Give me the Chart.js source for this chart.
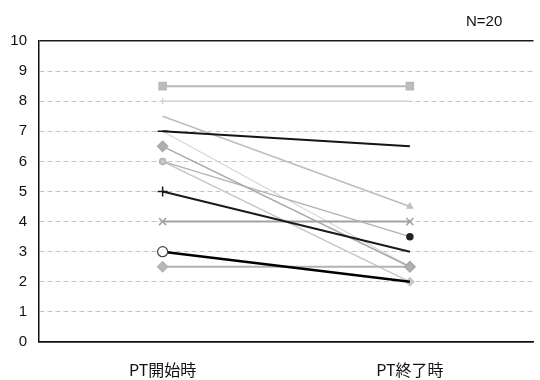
<!DOCTYPE html>
<html>
<head>
<meta charset="utf-8">
<script src="https://cdn.jsdelivr.net/npm/chart.js@4/dist/chart.umd.min.js"></script>
<style>
  html, body { margin: 0; padding: 0; background: #fff; }
  #wrap { width: 540px; height: 380px; position: relative; }
</style>
</head>
<body>
<div id="wrap"><canvas id="c"></canvas></div>
<script>
// Categories on the x axis
const categories = ['PT開始時', 'PT終了時'];
// Score of each patient line at the start and at the end of PT
const startScores = [8.5, 8, 7.5, 7, 7, 6.5, 6, 6, 5, 4, 3, 2.5];
const endScores   = [8.5, 8, 4.5, 6.5, 2.5, 2.5, 3.5, 2, 3, 4, 2, 2.5];
// Y axis ticks
const yTicks = [0, 1, 2, 3, 4, 5, 6, 7, 8, 9, 10];
const sampleLabel = 'N=20';

// Drawing styles for each line (same order as the scores):
// marker radius and fill given separately for the start and end points
const lineStyles = [
  { color: '#b9b9b9', width: 2,   point: 'rect',     radius: [5, 5], fill: ['#bdbdbd', '#bdbdbd'], order: 2 },
  { color: '#d2d2d2', width: 1.5, point: 'cross',    radius: [3, 0], fill: ['#d2d2d2', '#d2d2d2'], order: 2 },
  { color: '#bdbdbd', width: 1.5, point: 'triangle', radius: [0, 3], fill: ['#cfcfcf', '#cfcfcf'], order: 2 },
  { color: '#151515', width: 2,   point: 'line',     radius: [5, 0], fill: ['#151515', '#151515'], order: 0 },
  { color: '#d6d6d6', width: 1.2, point: 'circle',   radius: [0, 0], fill: ['#d6d6d6', '#d6d6d6'], order: 3 },
  { color: '#a9a9a9', width: 1.5, point: 'rectRot',  radius: [5, 5], fill: ['#b0b0b0', '#b0b0b0'], order: 1 },
  { color: '#b2b2b2', width: 1.5, point: 'circle',   radius: [3, 3], fill: ['#c8c8c8', '#222222'], order: 1 },
  { color: '#c6c6c6', width: 1.5, point: 'rectRot',  radius: [0, 4], fill: ['#c6c6c6', '#c6c6c6'], order: 2 },
  { color: '#1a1a1a', width: 2,   point: 'cross',    radius: [5, 0], fill: ['#1a1a1a', '#1a1a1a'], order: 0 },
  { color: '#a2a2a2', width: 2,   point: 'crossRot', radius: [5, 5], fill: ['#a2a2a2', '#a2a2a2'], order: 1 },
  { color: '#000000', width: 2.5, point: 'circle',   radius: [5, 0], fill: ['#ffffff', '#ffffff'], order: 0 },
  { color: '#b3b3b3', width: 2,   point: 'rectRot',  radius: [5, 5], fill: ['#b8b8b8', '#b8b8b8'], order: 1 }
];

const datasets = startScores.map((s, i) => {
  const st = lineStyles[i];
  const hollow = st.fill[0] === '#ffffff';
  return {
    label: 'p' + (i + 1),
    data: [s, endScores[i]],
    borderColor: st.color,
    borderWidth: st.width,
    pointStyle: st.point,
    pointRadius: st.radius,
    pointHoverRadius: st.radius,
    pointBackgroundColor: st.fill,
    pointBorderColor: hollow ? '#444' : st.fill.map((f) => f === '#222222' ? '#222222' : st.color),
    pointBorderWidth: hollow ? 1.2 : 1.5,
    order: st.order,
    tension: 0,
    fill: false
  };
});

// Small "N=" note in the top right corner
const noteLabel = {
  id: 'noteLabel',
  afterDraw(chart) {
    const ctx = chart.ctx;
    ctx.save();
    ctx.font = '15px "Liberation Sans Narrow", "Liberation Sans", sans-serif';
    ctx.fillStyle = '#111';
    ctx.textAlign = 'left';
    ctx.textBaseline = 'middle';
    ctx.fillText(sampleLabel, 466, 22);
    ctx.restore();
  }
};

new Chart(document.getElementById('c'), {
  type: 'line',
  data: { labels: categories, datasets },
  plugins: [noteLabel],
  options: {
    responsive: true,
    maintainAspectRatio: false,
    animation: false,
    layout: { padding: { top: 41, right: 0, left: 0, bottom: 0 } },
    plugins: { legend: { display: false }, tooltip: { enabled: false } },
    scales: {
      x: {
        offset: true,
        grid: { display: false },
        border: { display: true, color: '#111', width: 1.5 },
        ticks: {
          color: '#111',
          padding: 10,
          font: { family: '"Noto Sans CJK JP", sans-serif', size: 16 }
        },
        afterFit(scale) { scale.height = 38; }
      },
      y: {
        min: 0,
        max: 10,
        afterBuildTicks(scale) { scale.ticks = yTicks.map(v => ({ value: v })); },
        grid: {
          drawTicks: false,
          color: (c) => (c.tick && c.tick.value === 10) ? '#1a1a1a' : (c.tick && c.tick.value === 0 ? '#111' : '#c4c4c4'),
          lineWidth: (c) => (c.tick && (c.tick.value === 10 || c.tick.value === 0)) ? 1.5 : 1
        },
        border: {
          display: true,
          color: '#111',
          width: 1.5,
          dash: (c) => (c.tick && (c.tick.value === 10 || c.tick.value === 0)) ? [] : [5, 3]
        },
        ticks: {
          color: '#111',
          padding: 12,
          font: { family: '"Liberation Sans Narrow", "Liberation Sans", sans-serif', size: 15 }
        },
        afterFit(scale) { scale.width = 39; }
      }
    }
  }
});
</script>
</body>
</html>
